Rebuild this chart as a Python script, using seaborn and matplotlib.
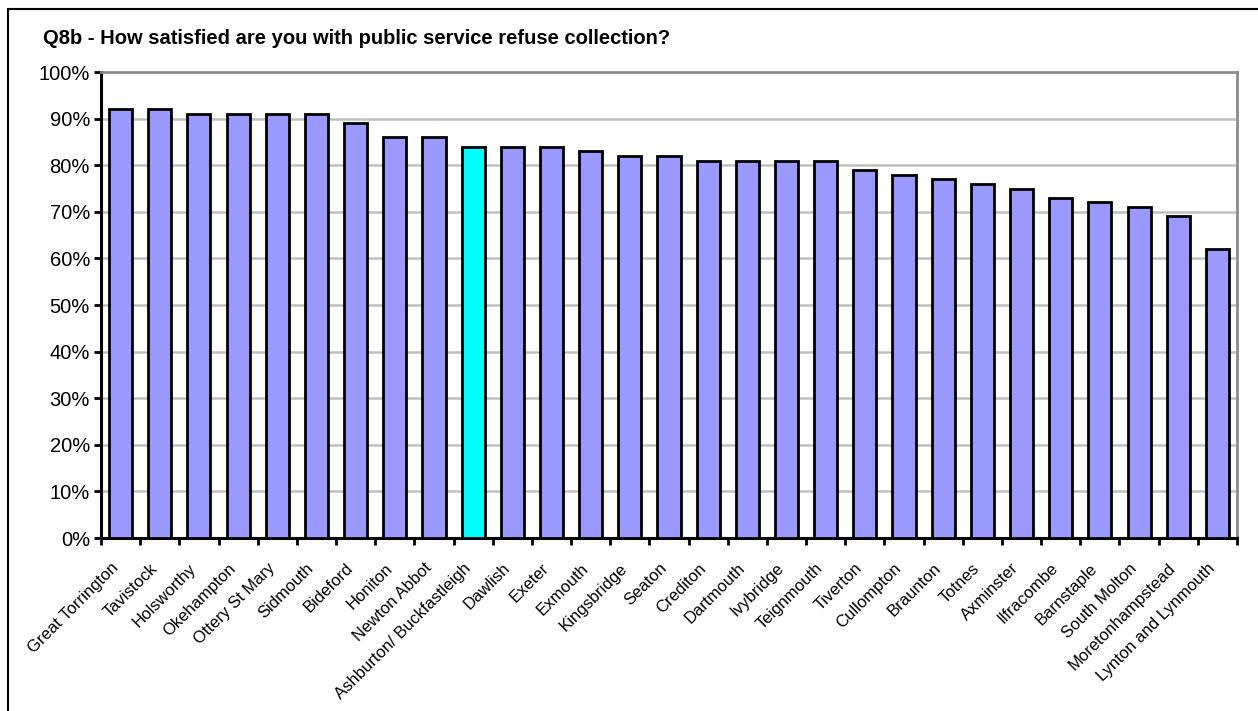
import numpy as np
import pandas as pd
import matplotlib
matplotlib.use("Agg")
import matplotlib.pyplot as plt
import matplotlib.transforms as mtransforms
import seaborn as sns
from matplotlib.patches import Rectangle
from matplotlib.ticker import FixedLocator, PercentFormatter

towns = ["Great Torrington", "Tavistock", "Holsworthy", "Okehampton", "Ottery St Mary",
         "Sidmouth", "Bideford", "Honiton", "Newton Abbot", "Ashburton/ Buckfastleigh",
         "Dawlish", "Exeter", "Exmouth", "Kingsbridge", "Seaton", "Crediton", "Dartmouth",
         "Ivybridge", "Teignmouth", "Tiverton", "Cullompton", "Braunton", "Totnes",
         "Axminster", "Ilfracombe", "Barnstaple", "South Molton", "Moretonhampstead",
         "Lynton and Lynmouth"]
satisfied = [92, 92, 91, 91, 91, 91, 89, 86, 86, 84, 84, 84, 83, 82, 82, 81, 81, 81, 81,
             79, 78, 77, 76, 75, 73, 72, 71, 69, 62]
highlight = "Ashburton/ Buckfastleigh"

df = pd.DataFrame({"town": towns, "pct": satisfied})
colors = {t: ("#00FFFF" if t == highlight else "#9999FF") for t in towns}

sns.set_style("white")
plt.rcParams["font.family"] = ["Liberation Sans", "DejaVu Sans"]
plt.rcParams["text.color"] = "black"
plt.rcParams["xtick.color"] = "black"
plt.rcParams["ytick.color"] = "black"

fig = plt.figure(figsize=(12.58, 7.11), dpi=100)
ax = fig.add_axes([101 / 1258, 1 - 538 / 711, 1136 / 1258, 466 / 711])

sns.barplot(data=df, x="town", y="pct", hue="town", palette=colors, legend=False,
            width=0.59, edgecolor="black", linewidth=2.0, saturation=1, ax=ax, zorder=3)

ax.set_ylim(0, 100)
ax.set_xlim(-0.5, len(towns) - 0.5)
ax.yaxis.set_major_locator(FixedLocator(np.arange(0, 101, 10)))
ax.yaxis.set_major_formatter(PercentFormatter(decimals=0))
ax.grid(axis="y", color="#C0C0C0", linewidth=1.8, zorder=0)
ax.set_axisbelow(True)

ax.set_xlabel("")
ax.set_ylabel("")
ax.set_xticks(range(len(towns)))
ax.set_xticklabels(towns, rotation=45, ha="right", va="center", rotation_mode="anchor", fontsize=12)
ax.tick_params(axis="x", length=0, pad=20)
# nudge labels a little left like the original
shift = mtransforms.ScaledTranslation(-5 / 100, 0, fig.dpi_scale_trans)
for lab in ax.get_xticklabels():
    lab.set_transform(lab.get_transform() + shift)
ax.xaxis.set_minor_locator(FixedLocator(np.arange(-0.5, len(towns), 1)))
ax.tick_params(axis="x", which="minor", length=5, width=2, color="black", direction="out", bottom=True)
ax.tick_params(axis="y", length=5, width=2, color="black", direction="out", left=True,
               labelsize=14.5, pad=3)

for side in ["left", "bottom"]:
    ax.spines[side].set_color("black")
    ax.spines[side].set_linewidth(2.2)
for side in ["top", "right"]:
    ax.spines[side].set_color("#8C8C8C")
    ax.spines[side].set_linewidth(2.0)

fig.text(43 / 1258, 1 - 38 / 711, "Q8b - How satisfied are you with public service refuse collection?",
         fontsize=14.5, fontweight="bold", va="center", ha="left", color="black")

fig.patches.append(Rectangle((8 / 1258, -0.01), 1.2, 1 - 9 / 711 + 0.01, transform=fig.transFigure,
                             fill=False, edgecolor="black", linewidth=1.5))

fig.savefig("out.png", dpi=100)
